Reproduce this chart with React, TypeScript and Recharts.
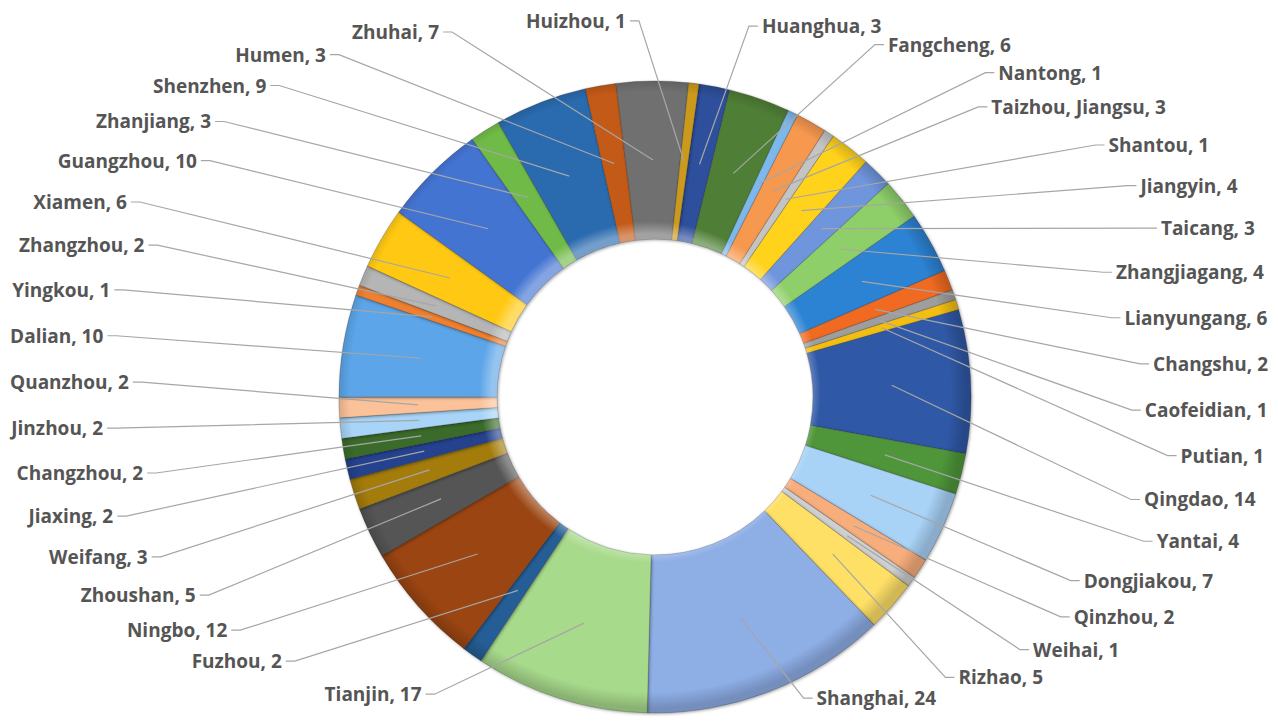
import { useMemo } from "react";
import { Cell, Pie, PieChart } from "recharts";

// clockwise from just past twelve o'clock
const ports = [
    "Huanghua", "Fangcheng", "Nantong", "Taizhou, Jiangsu", "Shantou", "Jiangyin",
    "Taicang", "Zhangjiagang", "Lianyungang", "Changshu", "Caofeidian", "Putian",
    "Qingdao", "Yantai", "Dongjiakou", "Qinzhou", "Weihai", "Rizhao", "Shanghai",
    "Tianjin", "Fuzhou", "Ningbo", "Zhoushan", "Weifang", "Jiaxing", "Changzhou",
    "Jinzhou", "Quanzhou", "Dalian", "Yingkou", "Zhangzhou", "Xiamen", "Guangzhou",
    "Zhanjiang", "Shenzhen", "Humen", "Zhuhai", "Huizhou",
];

const shipments = [
    3, 6, 1, 3, 1, 4,
    3, 4, 6, 2, 1, 1,
    14, 4, 7, 2, 1, 5, 24,
    17, 2, 12, 5, 3, 2, 2,
    2, 2, 10, 1, 2, 6, 10,
    3, 9, 3, 7, 1,
];

const sliceColors = [
    "#2E4F9B", "#4F7F36", "#7DB8EC", "#F7984F", "#C4C4C4", "#FFD21C",
    "#6F95DD", "#8FCF6A", "#2C82D3", "#F06A22", "#9E9E9E", "#F2BE12",
    "#2F58A6", "#4E9639", "#A8D2F6", "#F8AE7C", "#CFCFCF", "#FFE067", "#8EAEE6",
    "#A8DA8C", "#255E96", "#9B4512", "#555555", "#A37C0B", "#24428E", "#3A6B2A",
    "#A7D4F7", "#FBC29A", "#5CA5E8", "#F0802F", "#B5B5B5", "#FFC913", "#4474D2",
    "#70BB48", "#2A6AAE", "#C35A17", "#707070", "#CB9A1C",
];

const CHART_W = 1270;
const CHART_H = 713;
const CX = 642;
const CY = 384;
const OUTER_R = 316;
const INNER_R = 158;
const START_ANGLE = 82;
const FONT_SIZE = 19;
const FONT_FAMILY = "'Open Sans', 'Noto Sans', sans-serif";

// labels sit with their outer edge on a rounded-rectangle band round the ring
const LABEL_CY = 357;
const LABEL_RY = 345;
const LABEL_RX_LEFT = 640;
const LABEL_RX_RIGHT = 618;
const BAND_POWER = 3;
const MIN_PHI = 4;
const MAX_PHI = 178;

type Placement = { side: "left" | "right"; x: number; y: number };

const labelText = (i: number) => `${ports[i]}, ${shipments[i]}`;

let measureCtx: CanvasRenderingContext2D | null = null;
function measureText(text: string) {
    if (!measureCtx) measureCtx = document.createElement("canvas").getContext("2d");
    if (!measureCtx) return text.length * 10;
    measureCtx.font = `700 ${FONT_SIZE}px ${FONT_FAMILY}`;
    return measureCtx.measureText(text).width;
}

const rad = Math.PI / 180;
// near the top and bottom the labels need more angle between them
const gapAt = (phi: number) => 7.7 + 3.5 * Math.pow(Math.cos(phi * rad), 4);

function spread(phis: number[]) {
    const out = phis.map((p) => Math.max(MIN_PHI, Math.min(MAX_PHI, p)));
    for (let i = 1; i < out.length; i++) {
        out[i] = Math.max(out[i], out[i - 1] + gapAt(out[i - 1]));
    }
    const last = out.length - 1;
    if (last >= 0 && out[last] > MAX_PHI) {
        out[last] = MAX_PHI;
        for (let i = last - 1; i >= 0; i--) {
            out[i] = Math.min(out[i], out[i + 1] - gapAt(out[i + 1]));
        }
    }
    return out;
}

function layoutLabels(): Placement[] {
    const total = shipments.reduce((s, v) => s + v, 0);
    let acc = 0;
    const items = shipments.map((v, i) => {
        const theta = 90 - START_ANGLE + ((acc + v / 2) / total) * 360;
        acc += v;
        const side: "left" | "right" =
            Math.sin(theta * rad) > 0.15 ? "right" : "left";
        const phi = side === "right" ? theta : theta < 180 ? -theta : 360 - theta;
        return { i, side, phi };
    });

    const result: Placement[] = new Array(shipments.length);
    for (const side of ["left", "right"] as const) {
        const group = items
            .filter((it) => it.side === side)
            .sort((a, b) => a.phi - b.phi);
        const phis = spread(group.map((g) => g.phi));
        group.forEach((g, k) => {
            const c = Math.cos(phis[k] * rad);
            const y = LABEL_CY - LABEL_RY * c;
            const reach = Math.pow(1 - Math.pow(Math.abs(c), BAND_POWER), 1 / BAND_POWER);
            const w = measureText(labelText(g.i));
            // x is the text edge that faces the ring (where the leader joins)
            const x =
                side === "right"
                    ? CX + LABEL_RX_RIGHT * reach - w
                    : CX - LABEL_RX_LEFT * reach + w;
            result[g.i] = { side, x, y };
        });
    }
    return result;
}

export default function App() {
    const rows = useMemo(
        () => ports.map((port, i) => ({ port, shipments: shipments[i] })),
        []
    );
    const placements = useMemo(() => layoutLabels(), []);

    const renderLabel = (props: any) => {
        const { cx, cy, midAngle, innerRadius, outerRadius, index } = props;
        const p = placements[index];
        if (!p) return null;
        const r = (innerRadius + outerRadius) / 2;
        const sx = cx + r * Math.cos(-midAngle * rad);
        const sy = cy + r * Math.sin(-midAngle * rad);
        const dir = p.side === "right" ? -1 : 1;
        const near = p.x + dir * 4;
        const far = p.x + dir * 13;
        return (
            <g key={`lbl-${index}`}>
                <polyline
                    points={`${sx},${sy} ${far},${p.y} ${near},${p.y}`}
                    fill="none"
                    stroke="#A6A6A6"
                    strokeWidth={1.2}
                />
                <text
                    x={p.x}
                    y={p.y}
                    textAnchor={p.side === "right" ? "start" : "end"}
                    dominantBaseline="central"
                    fill="#555555"
                    fontFamily={FONT_FAMILY}
                    fontWeight={700}
                    fontSize={FONT_SIZE}
                >
                    {labelText(index)}
                </text>
            </g>
        );
    };

    return (
        <div style={{ width: CHART_W, height: CHART_H }}>
            <style>{`
                .ring-main .recharts-pie-sector {
                    filter: drop-shadow(1px 1px 1.5px rgba(0, 0, 0, 0.35));
                }
            `}</style>
            <PieChart width={CHART_W} height={CHART_H}>
                <defs>
                    <radialGradient
                        id="ringShade"
                        gradientUnits="userSpaceOnUse"
                        cx={CX}
                        cy={CY}
                        r={OUTER_R}
                    >
                        <stop offset="0.5" stopColor="#ffffff" stopOpacity={0.35} />
                        <stop offset="0.54" stopColor="#ffffff" stopOpacity={0} />
                        <stop offset="0.95" stopColor="#000000" stopOpacity={0} />
                        <stop offset="1" stopColor="#000000" stopOpacity={0.18} />
                    </radialGradient>
                </defs>
                <Pie
                    className="ring-main"
                    data={rows}
                    dataKey="shipments"
                    nameKey="port"
                    cx={CX}
                    cy={CY}
                    innerRadius={INNER_R}
                    outerRadius={OUTER_R}
                    startAngle={START_ANGLE}
                    endAngle={START_ANGLE - 360}
                    stroke="rgba(40,40,40,0.3)"
                    strokeWidth={0.8}
                    isAnimationActive={false}
                    labelLine={false}
                    label={renderLabel}
                >
                    {rows.map((row, i) => (
                        <Cell key={row.port} fill={sliceColors[i]} />
                    ))}
                </Pie>
                <Pie
                    data={rows}
                    dataKey="shipments"
                    nameKey="port"
                    cx={CX}
                    cy={CY}
                    innerRadius={INNER_R}
                    outerRadius={OUTER_R}
                    startAngle={START_ANGLE}
                    endAngle={START_ANGLE - 360}
                    fill="url(#ringShade)"
                    stroke="none"
                    isAnimationActive={false}
                    legendType="none"
                />
            </PieChart>
        </div>
    );
}
